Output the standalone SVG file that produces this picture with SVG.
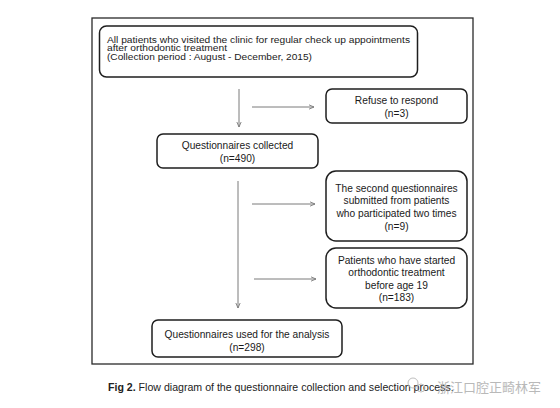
<svg xmlns="http://www.w3.org/2000/svg" width="560" height="408" viewBox="0 0 560 408">
<defs>
<style>
.box{fill:#fff;stroke:#1e1e1e;stroke-width:1.5}
.frame{fill:none;stroke:#2a2a2a;stroke-width:1.3}
.t{font-family:"Liberation Sans",Arial,sans-serif;font-size:10.2px;fill:#1a1a1a}
.s{font-size:9.2px}
.c{text-anchor:middle}
.arr{stroke:#7a7a7a;stroke-width:1;fill:none;marker-end:url(#ah)}
.cap{font-family:"Liberation Sans",Arial,sans-serif;font-size:10.6px;fill:#222;font-weight:bold}
.wm{font-family:"Noto Sans CJK SC",sans-serif;font-size:13px;fill:#a8a8a8}
</style>
<marker id="ah" viewBox="0 0 8 8" refX="7" refY="4" markerWidth="6" markerHeight="6" orient="auto" markerUnits="userSpaceOnUse">
<path d="M0,1 L7,4 L0,7" fill="none" stroke="#7a7a7a" stroke-width="1.2"/>
</marker>
</defs>
<rect width="560" height="408" fill="#fff"/>
<rect class="frame" x="92" y="18" width="381" height="346"/>
<g id="connectors">
<line class="arr" x1="239" y1="89" x2="239" y2="127"/>
<line class="arr" x1="252" y1="107" x2="314" y2="107"/>
<line class="arr" x1="238" y1="181" x2="238" y2="308"/>
<line class="arr" x1="252" y1="204" x2="315" y2="204"/>
<line class="arr" x1="254" y1="279" x2="316" y2="279"/>
</g>
<g id="n_all">
<rect class="box" x="99.5" y="26" width="318" height="51" rx="7"/>
<text class="t s" x="107" y="42.7" textLength="303" lengthAdjust="spacingAndGlyphs">All patients who visited the clinic for regular check up appointments</text>
<text class="t s" x="107" y="51.3" textLength="120" lengthAdjust="spacingAndGlyphs">after orthodontic treatment</text>
<text class="t s" x="107" y="59.9" textLength="205" lengthAdjust="spacingAndGlyphs">(Collection period : August - December, 2015)</text>
</g>
<g id="n_refuse">
<rect class="box" x="326" y="89" width="141" height="34" rx="6"/>
<text class="t c" x="396.5" y="104">Refuse to respond</text>
<text class="t c" x="396.5" y="116.5">(n=3)</text>
</g>
<g id="n_collected">
<rect class="box" x="157" y="134" width="161" height="34" rx="6"/>
<text class="t c" x="237.5" y="149">Questionnaires collected</text>
<text class="t c" x="237.5" y="161.5">(n=490)</text>
</g>
<g id="n_second">
<rect class="box" x="326" y="171" width="141" height="70" rx="10"/>
<text class="t c" x="396.5" y="191.5">The second questionnaires</text>
<text class="t c" x="396.5" y="204">submitted from patients</text>
<text class="t c" x="396.5" y="216.5">who participated two times</text>
<text class="t c" x="396.5" y="229.5">(n=9)</text>
</g>
<g id="n_age">
<rect class="box" x="326" y="248" width="141" height="60" rx="10"/>
<text class="t c" x="396.5" y="263.5">Patients who have started</text>
<text class="t c" x="396.5" y="276">orthodontic treatment</text>
<text class="t c" x="396.5" y="288.5">before age 19</text>
<text class="t c" x="396.5" y="300.5">(n=183)</text>
</g>
<g id="n_used">
<rect class="box" x="152" y="320" width="190" height="37" rx="6"/>
<text class="t c" x="247" y="337.5">Questionnaires used for the analysis</text>
<text class="t c" x="247" y="350.5">(n=298)</text>
</g>
<text class="cap" x="108" y="391">Fig 2.  <tspan font-weight="normal">Flow diagram of the questionnaire collection and selection process.</tspan></text>
<g id="watermark" opacity="0.8">
<circle cx="413" cy="383" r="5" fill="none" stroke="#b0b0b0" stroke-width="1"/>
<circle cx="421" cy="388" r="4" fill="none" stroke="#b0b0b0" stroke-width="1"/>
<text class="wm" x="437" y="392">浙江口腔正畸林军</text>
</g>
</svg>
